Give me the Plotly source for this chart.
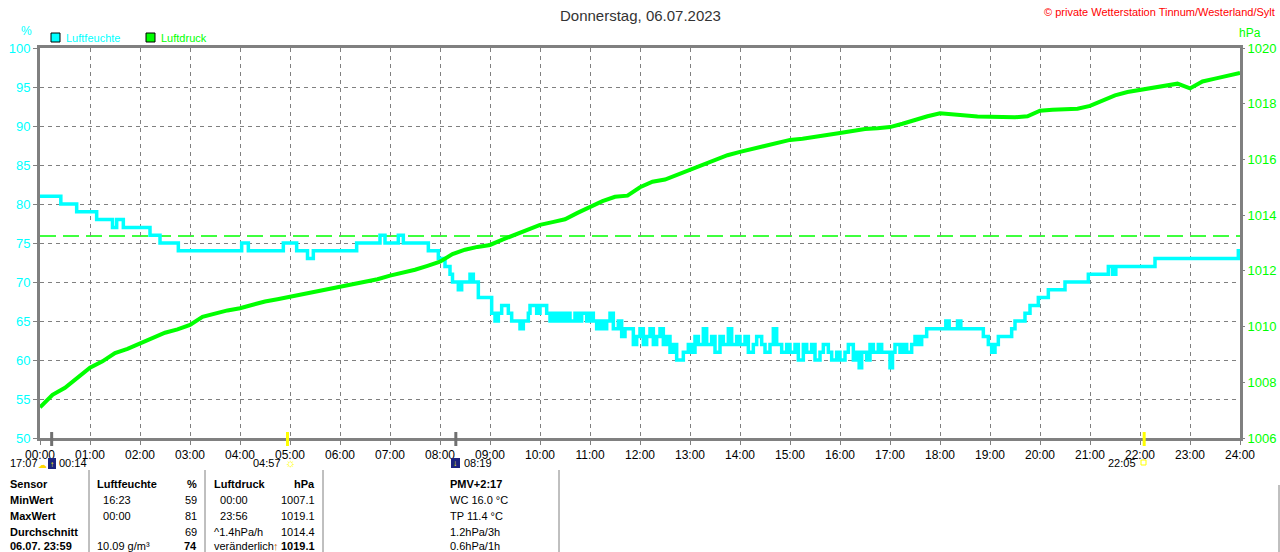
import plotly.graph_objects as go

# Luftfeuchte in %, Stufenwerte (Minute seit 00:00 -> Wert)
hum_min = [0, 25, 44, 68, 87, 92, 100, 132, 144, 166, 242, 250, 292, 308, 321, 328,
           380, 408, 414, 430, 436, 466, 478, 486, 492, 495, 502, 506, 516, 520, 526,
           542, 546, 550, 554, 562, 566, 576, 580, 586, 588, 596, 600, 608, 612, 616,
           620, 624, 628, 632, 636, 642, 646, 650, 656, 660, 664, 668, 672, 676, 680,
           684, 688, 694, 698, 702, 712, 716, 720, 724, 728, 732, 736, 740, 744, 748,
           752, 756, 760, 764, 772, 778, 782, 786, 790, 796, 800, 806, 810, 816, 820,
           826, 830, 836, 840, 846, 850, 856, 860, 866, 870, 876, 880, 884, 890, 896,
           900, 906, 910, 916, 920, 926, 930, 936, 940, 946, 950, 956, 960, 966, 970,
           976, 980, 983, 986, 992, 996, 1000, 1006, 1010, 1020, 1023, 1026, 1032, 1036,
           1040, 1046, 1050, 1054, 1058, 1064, 1087, 1091, 1101, 1105, 1132, 1138, 1142,
           1146, 1150, 1154, 1166, 1170, 1182, 1188, 1198, 1210, 1230, 1258, 1282, 1287,
           1291, 1338, 1438, 1440]
hum_val = [81, 80, 79, 78, 77, 78, 77, 76, 75, 74, 75, 74, 75, 74, 73, 74,
           75, 76, 75, 76, 75, 74, 73, 72, 71, 70, 69, 70, 71, 70, 68,
           66, 65, 66, 67, 66, 65, 64, 65, 66, 67, 66, 67, 66, 65, 66,
           65, 66, 65, 66, 65, 66, 65, 66, 65, 66, 65, 64, 65, 64, 65,
           66, 64, 65, 63, 64, 62, 63, 64, 62, 63, 64, 62, 63, 64, 62,
           63, 61, 62, 60, 61, 62, 61, 63, 62, 64, 62, 63, 61, 63, 62,
           64, 62, 63, 62, 63, 61, 62, 63, 62, 61, 62, 64, 62, 61, 62,
           61, 62, 60, 62, 61, 62, 60, 61, 62, 61, 60, 61, 60, 61, 62,
           60, 61, 59, 61, 60, 62, 61, 62, 61, 59, 61, 62, 61, 62,
           61, 62, 63, 62, 63, 64, 65, 64, 65, 64, 63, 62, 61,
           62, 63, 63, 64, 65, 66, 67, 68, 69, 70, 71, 72, 71,
           72, 73, 74, 74]

# Luftdruck in hPa, alle 15 Minuten
pres_min = list(range(0, 1441, 15))
pres_val = [1007.10, 1007.55, 1007.80, 1008.15, 1008.52, 1008.75, 1009.05, 1009.20,
            1009.40, 1009.60, 1009.78, 1009.90, 1010.06, 1010.35, 1010.48, 1010.58,
            1010.66, 1010.78, 1010.90, 1010.98, 1011.07, 1011.15, 1011.25, 1011.33,
            1011.41, 1011.50, 1011.58, 1011.70, 1011.83, 1011.92, 1012.04, 1012.18,
            1012.33, 1012.60, 1012.76, 1012.86, 1012.93, 1013.12, 1013.30, 1013.48,
            1013.65, 1013.75, 1013.85, 1014.08, 1014.30, 1014.50, 1014.66, 1014.70,
            1015.00, 1015.20, 1015.28, 1015.45, 1015.62, 1015.80, 1015.98, 1016.15,
            1016.27, 1016.38, 1016.48, 1016.60, 1016.70, 1016.74, 1016.80, 1016.88,
            1016.95, 1017.02, 1017.09, 1017.12, 1017.16, 1017.28, 1017.42, 1017.55,
            1017.66, 1017.62, 1017.56, 1017.54, 1017.53, 1017.52, 1017.51, 1017.55,
            1017.75, 1017.78, 1017.79, 1017.82, 1017.92, 1018.12, 1018.30, 1018.42,
            1018.50, 1018.57, 1018.66, 1018.72, 1018.55, 1018.80, 1018.90, 1019.00,
            1019.10]
pres_ref = 1013.25

hour_ticks = list(range(0, 1441, 60))
hour_labels = ["%02d:00" % h for h in range(25)]

# Sonne / Mond Zeiten (Minute, Text, Farbe der Markierung)
event_min = [14, 297, 499, 1325]
event_txt = ["00:14", "04:57", "08:19", "22:05"]
event_col = ["#707070", "#ffff00", "#707070", "#ffff00"]

# Tabelle unten
tab_sensor = ["Sensor", "MinWert", "MaxWert", "Durchschnitt", "06.07. 23:59"]
tab_hum_time = ["Luftfeuchte", "  16:23", "  00:00", "", "10.09 g/m³"]
tab_hum_val = ["%", "59", "81", "69", "74"]
tab_pres_time = ["Luftdruck", "  00:00", "  23:56", "^1.4hPa/h", "veränderlich"]
tab_pres_val = ["hPa", "1007.1", "1019.1", "1014.4", "1019.1"]
tab_extra = ["PMV+2:17", "WC 16.0 °C", "TP 11.4 °C", "1.2hPa/3h", "0.6hPa/1h"]

CYAN = "#00ffff"
GREEN = "#00ff00"
GRAY = "#808080"
FONT = "Liberation Sans"

L, R, T, B = 40, 1240, 48, 438


def px(x):
    return (x - L) / (R - L)


def py(y):
    return (B - y) / (B - T)


ann = []
shapes = []


def text(x, y, s, size=11, color="black", anchor="center"):
    ann.append(dict(xref="paper", yref="paper", x=px(x), y=py(y), xanchor=anchor,
                    yanchor="middle", text=s, showarrow=False,
                    font=dict(size=size, color=color)))


def box(x0, y0, x1, y1, fill, line=None):
    shapes.append(dict(type="rect", xref="paper", yref="paper", x0=px(x0), x1=px(x1),
                       y0=py(y1), y1=py(y0), fillcolor=fill,
                       line=line if line else dict(width=0)))


# Referenzlinie 1013.25 hPa
shapes.append(dict(type="line", xref="paper", yref="y2", x0=0, x1=1, y0=pres_ref, y1=pres_ref,
                   line=dict(color=GREEN, width=1.5, dash="16px,7px"), layer="below"))

text(640, 15, "Donnerstag, 06.07.2023", 15, "#333333")
text(1277, 12, "© private Wetterstation Tinnum/Westerland/Sylt", 11, "#ff0000", "right")
text(26, 31, "%", 12, CYAN)
text(1250, 33, "hPa", 12, GREEN)

# Legende
for bx, name, col in [(51, "Luftfeuchte", CYAN), (146, "Luftdruck", GREEN)]:
    box(bx, 33, bx + 9, 42, col, dict(color="black", width=1))
    text(bx + 13, 38, name, 11, col, "left")

# Markierungen unter der Achse
for m, c in zip(event_min, event_col):
    shapes.append(dict(type="line", xref="x", yref="paper", x0=m, x1=m, y0=py(446), y1=py(432),
                       line=dict(color=c, width=3)))
text(8, 463, "17:07", anchor="left")
text(42, 465, "☁", 9, "#ffd800")
box(48, 458, 56, 469, "#1a237e")
text(52, 464, "↑", 8, "#ffff00")
text(57, 463, event_txt[0], anchor="left")
text(283, 463, event_txt[1], anchor="right")
text(290, 463, "☼", 12, "#ffff00")
box(451, 458, 460, 468, "#1a237e")
text(455, 463, "↓", 8, "#ffff00")
text(462, 463, event_txt[2], anchor="left")
text(1138, 463, event_txt[3], anchor="right")
box(1141, 460, 1146, 465, "white", dict(color="#ffff00", width=1))

# Tabelle
for sx, sy in [(89, 470), (205, 470), (323, 470), (559, 470), (1279, 485)]:
    shapes.append(dict(type="line", xref="paper", yref="paper", x0=px(sx), x1=px(sx),
                       y0=py(552), y1=py(sy), line=dict(color=GRAY, width=1)))

row_y = [484, 500, 516, 532, 546]


def cell(x, y, s, anchor="left", bold=False):
    if s:
        text(x, y, "<b>%s</b>" % s if bold else s, 11, "black", anchor)


for i, y in enumerate(row_y):
    cell(8, y, tab_sensor[i], bold=True)
    cell(95, y, tab_hum_time[i], bold=(i == 0))
    cell(199, y, tab_hum_val[i], "right", bold=(i in (0, 4)))
    cell(212, y, tab_pres_time[i], bold=(i == 0))
    cell(317, y, tab_pres_val[i], "right", bold=(i in (0, 4)))
    cell(448, y, tab_extra[i], bold=(i == 0))
text(276, 546, "<b>↑</b>", 11, "#c06000")

fig = go.Figure(layout=go.Layout(annotations=ann, shapes=shapes))
fig.add_trace(go.Scatter(x=hum_min, y=hum_val, mode="lines", line_shape="hv",
                         line=dict(color=CYAN, width=3.5), showlegend=False))
fig.add_trace(go.Scatter(x=pres_min, y=pres_val, mode="lines", yaxis="y2",
                         line=dict(color=GREEN, width=4), showlegend=False))

fig.update_layout(
    width=1280, height=552, autosize=False,
    margin=dict(l=L, r=1280 - R, t=T, b=552 - B, pad=0, autoexpand=False),
    paper_bgcolor="white", plot_bgcolor="white",
    font=dict(family=FONT, size=12, color="black"),
    showlegend=False,
    xaxis=dict(range=[0, 1440], tickvals=hour_ticks, ticktext=hour_labels,
               showgrid=True, gridcolor=GRAY, griddash="4px,4px", gridwidth=1,
               showline=True, mirror=True, linecolor=GRAY, linewidth=3,
               ticks="outside", ticklen=4, tickcolor=GRAY, automargin=False,
               tickfont=dict(size=12, color="black"), zeroline=False),
    yaxis=dict(range=[50, 100], tickvals=list(range(50, 101, 5)),
               showgrid=True, gridcolor=GRAY, griddash="4px,4px", gridwidth=1,
               showline=True, mirror=True, linecolor=GRAY, linewidth=3,
               ticks="outside", ticklen=4, tickcolor=GRAY, automargin=False,
               tickfont=dict(size=13, color=CYAN), zeroline=False),
    yaxis2=dict(range=[1006, 1020], tickvals=list(range(1006, 1021, 2)), overlaying="y",
                side="right", showgrid=False, zeroline=False, automargin=False,
                ticks="outside", ticklen=4, tickcolor=GRAY,
                tickfont=dict(size=13, color=GREEN)),
)

fig.write_html("out.html", config={"displayModeBar": False, "responsive": False},
               post_script="document.body.style.margin='0';"
                           "document.body.style.overflow='hidden';")
